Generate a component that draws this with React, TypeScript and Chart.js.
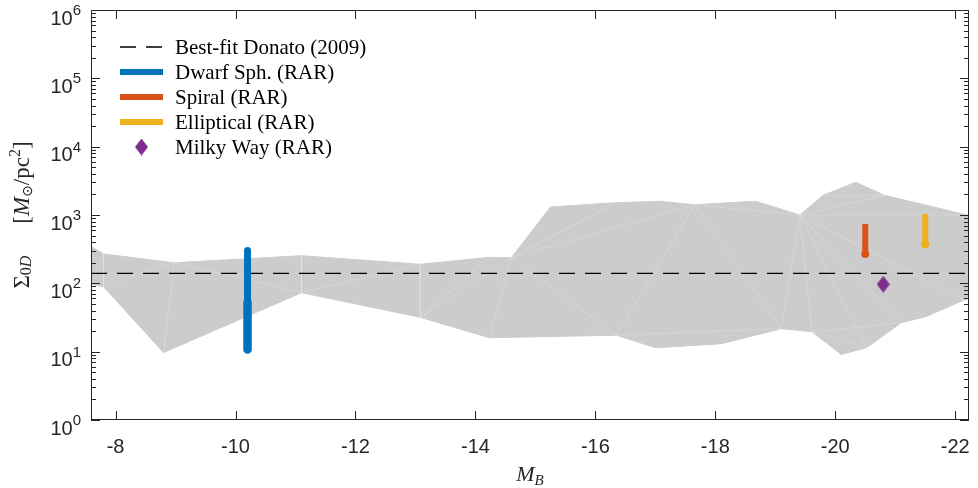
import React, { useEffect, useRef } from 'react';
import { Chart, registerables } from 'chart.js';
Chart.register(...registerables);

// ---------- data ----------
const xMin = -22.23;
const xMax = -7.59;
const yMin = 1;
const yMax = 1e6;
const xTickValues = [-8, -10, -12, -14, -16, -18, -20, -22];
const yTickExponents = [0, 1, 2, 3, 4, 5, 6];
const yMinorFactors = [2, 3, 4, 5, 6, 7, 8, 9];

// grey band (upper boundary left->right, lower boundary left->right)
const regionUpperX = [-7.59, -7.8, -8.98, -11.1, -13.08, -14.23, -14.6, -15.25, -16.35, -17.06, -17.66, -18.67, -19.41, -19.8, -20.34, -20.82, -22.15, -22.23];
const regionUpperY = [344, 269, 200, 254, 190, 240, 237, 1310, 1514, 1588, 1416, 1588, 1000, 1944, 3013, 1944, 1024, 1000];
const regionLowerX = [-7.59, -7.8, -8.8, -11.1, -13.08, -14.23, -16.35, -17.01, -18.11, -19.1, -19.61, -20.1, -20.52, -21.1, -21.51, -22.15, -22.23];
const regionLowerY = [98, 89, 9.7, 73, 31.8, 16, 17.4, 11.4, 13.1, 21.7, 19.6, 9.1, 11.4, 26.5, 32.5, 57, 60];

// faint mesh edges inside the band: [x1, y1, x2, y2]
const meshEdges: number[][] = [
  [-7.59, 98, -7.8, 269],
  [-7.8, 269, -7.8, 89],
  [-7.8, 89, -8.98, 200],
  [-8.98, 200, -8.8, 9.7],
  [-8.98, 200, -11.1, 73],
  [-11.1, 254, -11.1, 73],
  [-11.1, 73, -13.08, 190],
  [-13.08, 190, -13.08, 31.8],
  [-13.08, 31.8, -14.23, 240],
  [-13.08, 31.8, -14.6, 237],
  [-14.23, 16, -14.6, 237],
  [-14.6, 237, -16.35, 1514],
  [-14.6, 237, -17.66, 1416],
  [-14.6, 237, -16.35, 17.4],
  [-16.35, 17.4, -17.66, 1416],
  [-17.66, 1416, -19.1, 21.7],
  [-17.66, 1416, -19.41, 1000],
  [-16.35, 17.4, -19.1, 21.7],
  [-19.41, 1000, -19.1, 21.7],
  [-19.41, 1000, -19.61, 19.6],
  [-19.41, 1000, -20.52, 11.4],
  [-19.41, 1000, -21.1, 26.5],
  [-19.41, 1000, -22.15, 57],
  [-19.41, 1000, -22.23, 1000],
  [-19.41, 1000, -20.82, 1944],
  [-19.8, 1944, -20.82, 1944],
  [-19.61, 19.6, -21.1, 26.5],
  [-19.61, 19.6, -20.52, 11.4],
];

const donatoX = [-7.59, -22.23];
const donatoY = [140, 140];
const dwarfX = [-10.2, -10.2, -10.2];
const dwarfY = [303, 53, 10.8];
const spiralX = [-20.5, -20.5];
const spiralY = [738, 269];
const ellipticalX = [-21.5, -21.5];
const ellipticalY = [1035, 370];
const milkyWayX = [-20.8];
const milkyWayY = [97];

const legendLabels = [
  'Best-fit Donato (2009)',
  'Dwarf Sph. (RAR)',
  'Spiral (RAR)',
  'Elliptical (RAR)',
  'Milky Way (RAR)',
];

// ---------- styles ----------
const AXIS = '#262626';
const BLUE = '#0072BD';
const ORANGE = '#D95319';
const YELLOW = '#EDB120';
const PURPLE = '#7E2F8E';
const GREY = '#cccccc';
const SANS = '"Liberation Sans", Arial, sans-serif';
const SERIF = '"Liberation Serif", "Times New Roman", serif';

const zip = (xs: number[], ys: (number | null)[]) => xs.map((x, i) => ({ x, y: ys[i] }));

function makeDiamond(w: number, h: number, color: string) {
  const c = document.createElement('canvas');
  c.width = w;
  c.height = h;
  const g = c.getContext('2d')!;
  g.fillStyle = color;
  g.beginPath();
  g.moveTo(w / 2, 0);
  g.lineTo(w, h / 2);
  g.lineTo(w / 2, h);
  g.lineTo(0, h / 2);
  g.closePath();
  g.fill();
  return c;
}

function drawPieces(ctx: CanvasRenderingContext2D, pieces: { t: string; f: string; dy: number; gap?: number }[], cx: number, cy: number) {
  let total = 0;
  const widths = pieces.map((p) => {
    ctx.font = p.f;
    const w = ctx.measureText(p.t).width + (p.gap || 0);
    total += w;
    return w;
  });
  let x = cx - total / 2;
  pieces.forEach((p, i) => {
    ctx.font = p.f;
    ctx.fillText(p.t, x, cy + p.dy);
    x += widths[i];
  });
}

export default function App() {
  const ref = useRef<HTMLCanvasElement>(null);

  useEffect(() => {
    document.body.style.margin = '0';
    const diamond = makeDiamond(13, 17, PURPLE);

    const meshData: { x: number; y: number | null }[] = [];
    meshEdges.forEach(([x1, y1, x2, y2]) => {
      meshData.push({ x: x1, y: y1 }, { x: x2, y: y2 }, { x: x2, y: null });
    });

    const regionData = [
      ...zip(regionUpperX, regionUpperY),
      ...zip(regionLowerX, regionLowerY).reverse(),
    ];

    const axesPlugin = {
      id: 'matlabAxes',
      afterDraw(chart: any) {
        const { ctx, chartArea } = chart;
        const { left, right, top, bottom } = chartArea;
        const xs = chart.scales.x;
        const ys = chart.scales.y;
        ctx.save();
        ctx.strokeStyle = AXIS;
        ctx.fillStyle = AXIS;
        ctx.lineWidth = 1;
        // box
        ctx.strokeRect(left + 0.5, top + 0.5, right - left - 1, bottom - top - 1);
        // x ticks
        ctx.beginPath();
        xTickValues.forEach((v) => {
          const px = Math.round(xs.getPixelForValue(v)) + 0.5;
          ctx.moveTo(px, bottom);
          ctx.lineTo(px, bottom - 9);
          ctx.moveTo(px, top);
          ctx.lineTo(px, top + 9);
        });
        // y ticks
        yTickExponents.forEach((e) => {
          const py = Math.round(ys.getPixelForValue(Math.pow(10, e))) + 0.5;
          ctx.moveTo(left, py);
          ctx.lineTo(left + 9, py);
          ctx.moveTo(right, py);
          ctx.lineTo(right - 9, py);
          if (e < yTickExponents[yTickExponents.length - 1]) {
            yMinorFactors.forEach((m) => {
              const pm = Math.round(ys.getPixelForValue(m * Math.pow(10, e))) + 0.5;
              ctx.moveTo(left, pm);
              ctx.lineTo(left + 5, pm);
              ctx.moveTo(right, pm);
              ctx.lineTo(right - 5, pm);
            });
          }
        });
        ctx.stroke();

        // x tick labels
        ctx.font = `20px ${SANS}`;
        ctx.textAlign = 'center';
        ctx.textBaseline = 'alphabetic';
        xTickValues.forEach((v) => {
          ctx.fillText(String(v), xs.getPixelForValue(v), bottom + 33);
        });
        // y tick labels 10^n
        yTickExponents.forEach((e) => {
          const py = ys.getPixelForValue(Math.pow(10, e));
          ctx.textAlign = 'right';
          ctx.font = `15px ${SANS}`;
          const supW = ctx.measureText(String(e)).width;
          ctx.fillText(String(e), left - 10, py + 5);
          ctx.font = `20px ${SANS}`;
          ctx.fillText('10', left - 10 - supW, py + 14.5);
        });

        // axis titles
        ctx.textAlign = 'left';
        ctx.fillStyle = AXIS;
        drawPieces(
          ctx,
          [
            { t: 'M', f: `italic 22px ${SERIF}`, dy: 0 },
            { t: 'B', f: `italic 15px ${SERIF}`, dy: 4 },
          ],
          (left + right) / 2,
          481
        );
        ctx.save();
        ctx.translate(29, (top + bottom) / 2);
        ctx.rotate(-Math.PI / 2);
        drawPieces(
          ctx,
          [
            { t: 'Σ', f: `23px ${SERIF}`, dy: 0 },
            { t: '0', f: `16px ${SERIF}`, dy: 2 },
            { t: 'D', f: `italic 16px ${SERIF}`, dy: 2, gap: 32 },
            { t: '[', f: `23px ${SERIF}`, dy: 0 },
            { t: 'M', f: `italic 23px ${SERIF}`, dy: 0 },
            { t: '⊙', f: `14px "DejaVu Sans", ${SERIF}`, dy: 3 },
            { t: '/pc', f: `23px ${SERIF}`, dy: 0 },
            { t: '2', f: `16px ${SERIF}`, dy: -9 },
            { t: ']', f: `23px ${SERIF}`, dy: 0 },
          ],
          0,
          0
        );
        ctx.restore();

        // legend
        const sx0 = left + 29;
        const sx1 = left + 72;
        const tx = left + 84;
        const rowY = (i: number) => top + 37 + i * 25;
        ctx.lineCap = 'butt';
        ctx.strokeStyle = '#000';
        ctx.lineWidth = 1.3;
        ctx.setLineDash([16, 10]);
        ctx.beginPath();
        ctx.moveTo(sx0, rowY(0));
        ctx.lineTo(sx1, rowY(0));
        ctx.stroke();
        ctx.setLineDash([]);
        [BLUE, ORANGE, YELLOW].forEach((c, k) => {
          ctx.strokeStyle = c;
          ctx.lineWidth = 6;
          ctx.beginPath();
          ctx.moveTo(sx0, rowY(k + 1));
          ctx.lineTo(sx1, rowY(k + 1));
          ctx.stroke();
        });
        ctx.drawImage(diamond, (sx0 + sx1) / 2 - diamond.width / 2, rowY(4) - diamond.height / 2);
        ctx.font = `21px ${SERIF}`;
        ctx.fillStyle = '#000';
        ctx.textAlign = 'left';
        legendLabels.forEach((l, i) => ctx.fillText(l, tx, rowY(i) + 7));
        ctx.restore();
      },
    };

    const chart = new Chart(ref.current!, {
      type: 'line',
      data: {
        datasets: [
          {
            label: 'region',
            data: regionData,
            fill: 'shape',
            backgroundColor: GREY,
            borderColor: GREY,
            borderWidth: 1,
            pointRadius: 0,
            order: 10,
          } as any,
          {
            label: 'mesh',
            data: meshData,
            borderColor: 'rgba(255,255,255,0.28)',
            borderWidth: 0.7,
            pointRadius: 0,
            spanGaps: false,
            fill: false,
            order: 9,
          },
          {
            label: legendLabels[0],
            data: zip(donatoX, donatoY),
            borderColor: '#000',
            borderWidth: 1.3,
            borderDash: [16, 10],
            pointRadius: 0,
            fill: false,
            order: 8,
          },
          {
            label: legendLabels[1],
            data: zip(dwarfX, dwarfY),
            borderColor: BLUE,
            borderWidth: 7,
            borderCapStyle: 'round',
            pointRadius: 0,
            fill: false,
            segment: { borderWidth: (c: any) => (c.p0DataIndex === 0 ? 7 : 8.5) },
            order: 3,
          } as any,
          {
            label: legendLabels[2],
            data: zip(spiralX, spiralY),
            borderColor: ORANGE,
            backgroundColor: ORANGE,
            borderWidth: 6,
            borderCapStyle: 'butt',
            pointRadius: [0, 4],
            pointBorderWidth: 0,
            fill: false,
            order: 2,
          } as any,
          {
            label: legendLabels[3],
            data: zip(ellipticalX, ellipticalY),
            borderColor: YELLOW,
            backgroundColor: YELLOW,
            borderWidth: 6,
            borderCapStyle: 'butt',
            pointRadius: [0, 4],
            pointBorderWidth: 0,
            fill: false,
            order: 1,
          } as any,
          {
            label: legendLabels[4],
            data: zip(milkyWayX, milkyWayY),
            showLine: false,
            pointStyle: diamond,
            pointRadius: 8,
            fill: false,
            order: 0,
          } as any,
        ],
      },
      options: {
        animation: false,
        responsive: true,
        maintainAspectRatio: false,
        layout: { padding: { top: 10, right: 4, left: 0, bottom: 0 } },
        plugins: { legend: { display: false }, tooltip: { enabled: false } },
        events: [],
        scales: {
          x: {
            type: 'linear',
            min: xMin,
            max: xMax,
            reverse: true,
            grid: { display: false, drawTicks: false },
            border: { display: false },
            ticks: { display: false },
            afterFit: (s: any) => {
              s.height = 68;
            },
          },
          y: {
            type: 'logarithmic',
            min: yMin,
            max: yMax,
            grid: { display: false, drawTicks: false },
            border: { display: false },
            ticks: { display: false },
            afterFit: (s: any) => {
              s.width = 91;
            },
          },
        },
      } as any,
      plugins: [axesPlugin],
    });
    return () => chart.destroy();
  }, []);

  return (
    <div style={{ width: 978, height: 488, position: 'relative' }}>
      <canvas ref={ref} />
    </div>
  );
}
